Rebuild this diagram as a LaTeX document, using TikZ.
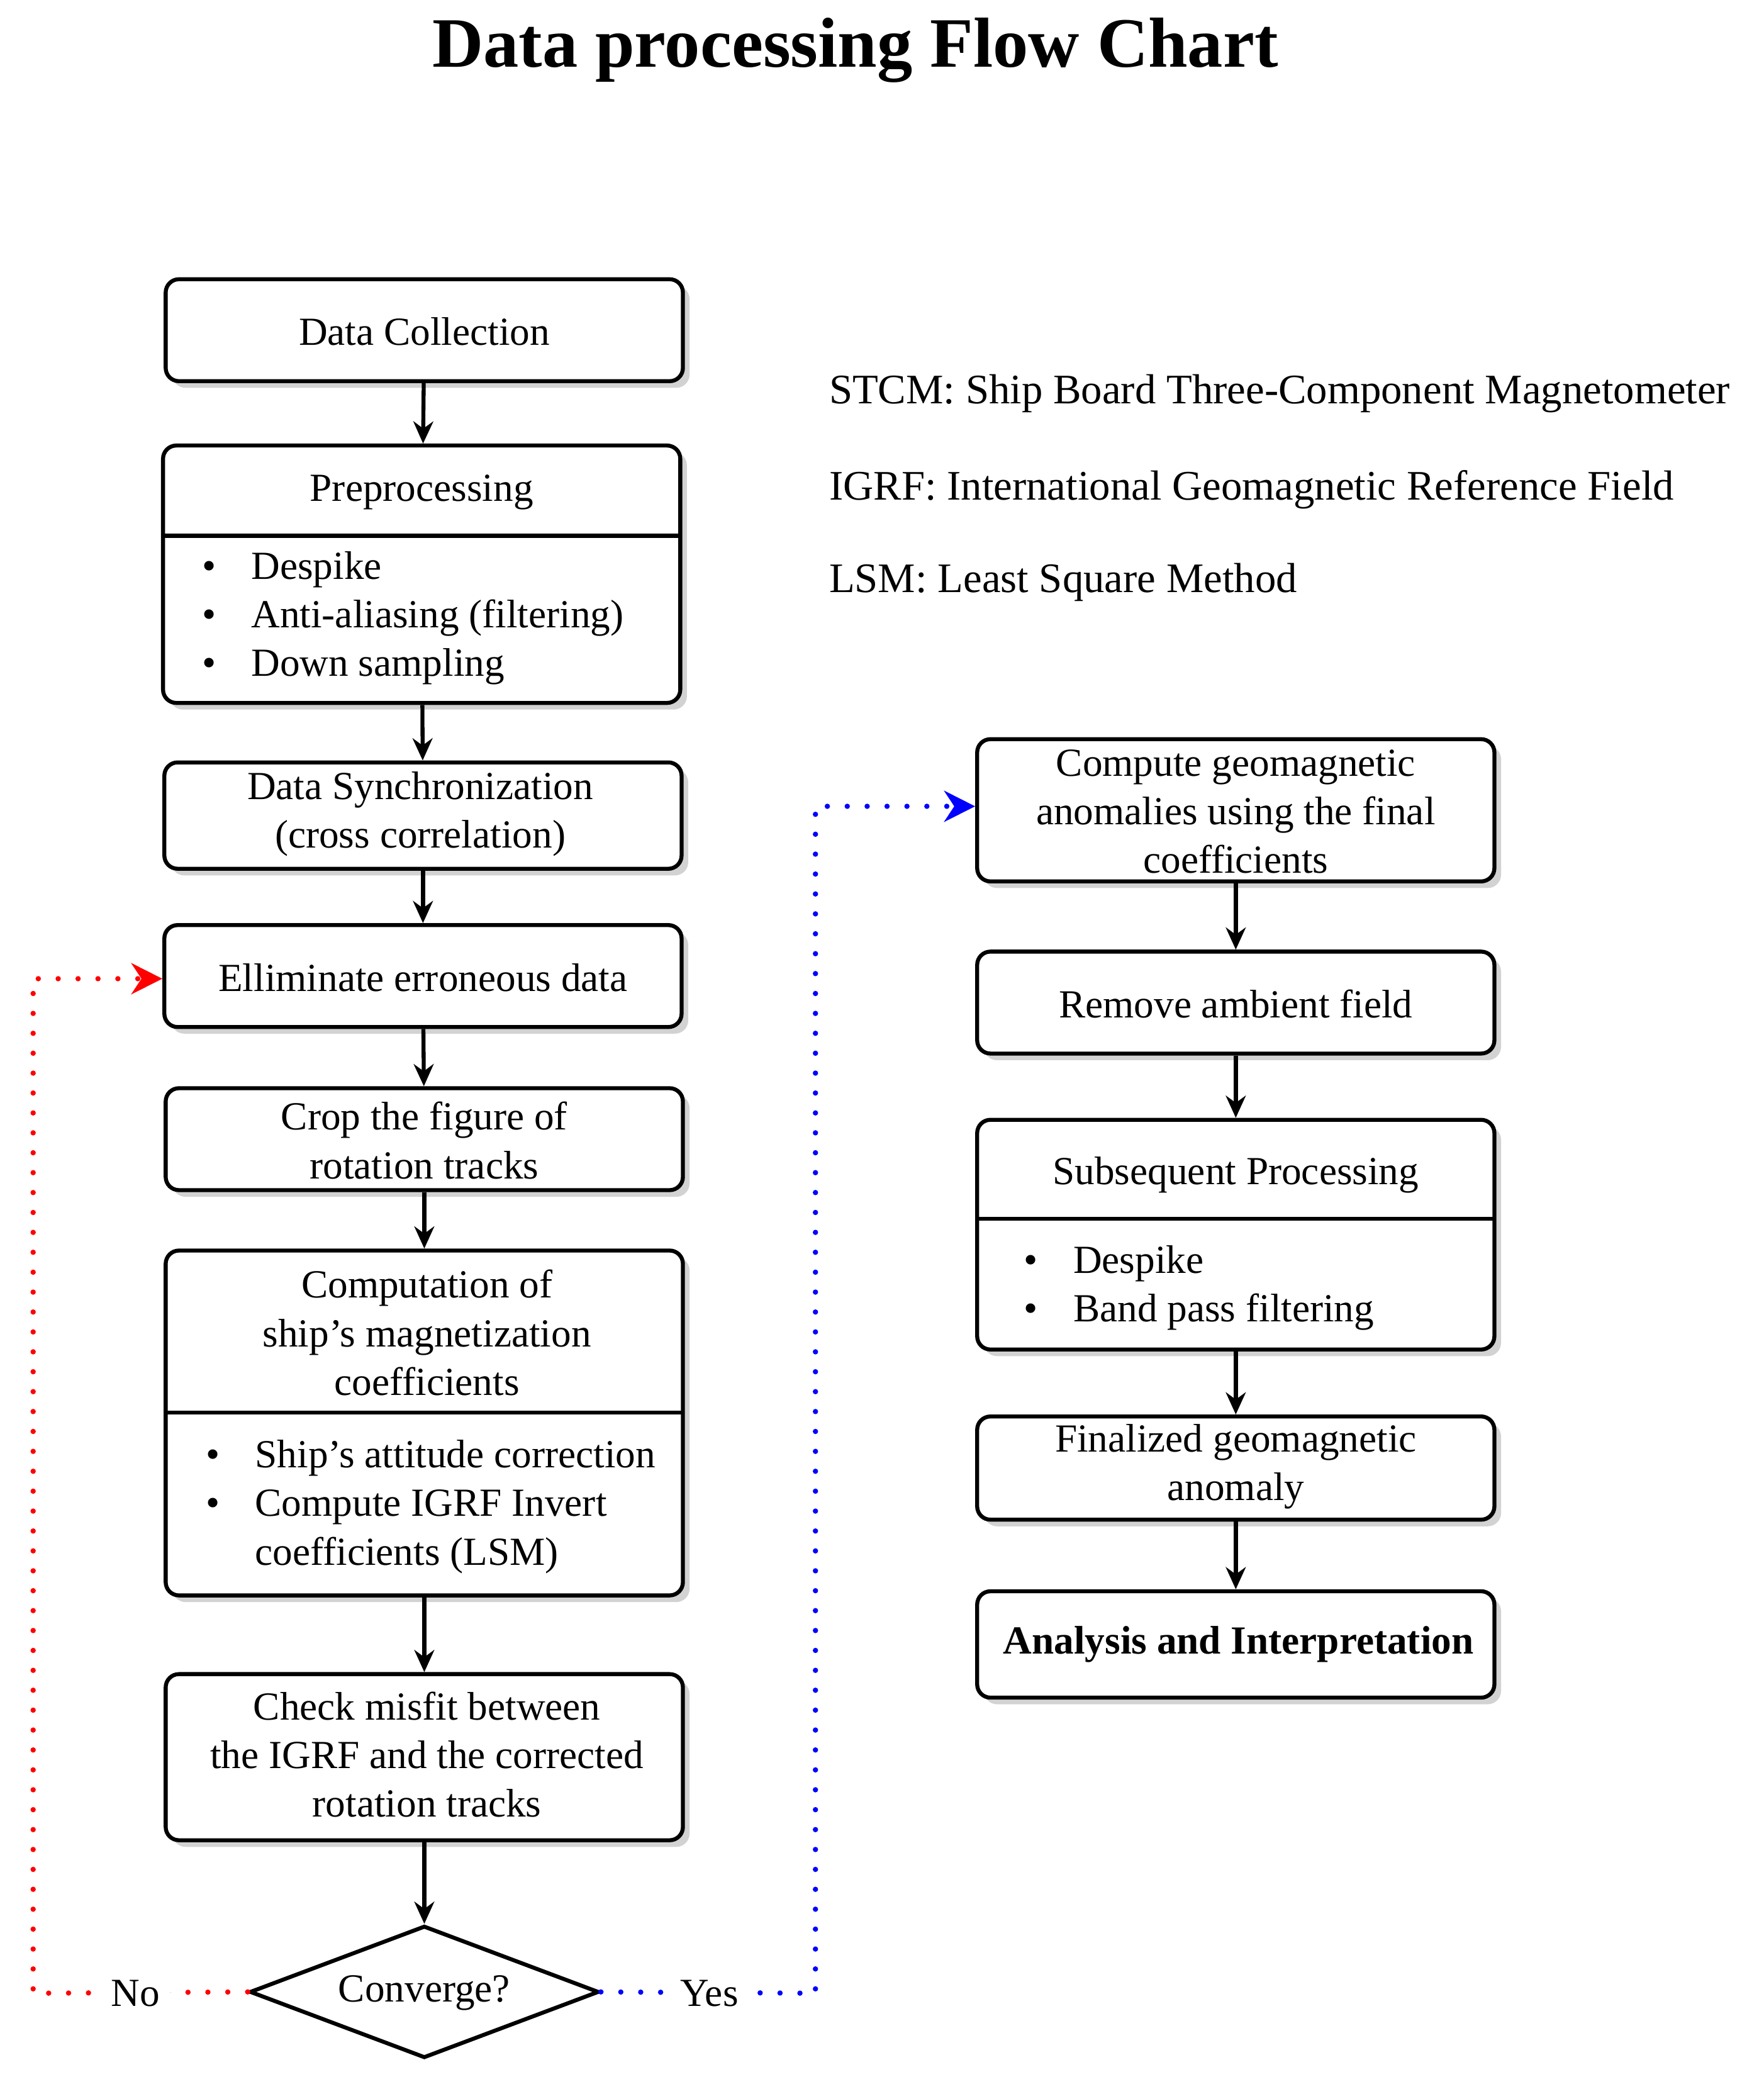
\documentclass[tikz,border=0pt]{standalone}
\usepackage{fontspec}
\setmainfont{Liberation Serif}
\usetikzlibrary{arrows.meta,shapes.geometric,shadows}
\begin{document}
\begin{tikzpicture}[x=0.02108cm,y=-0.02108cm,
  every node/.style={font=\fontsize{18}{22}\selectfont, inner sep=0pt},
  box/.style={draw, line width=1.8pt, rounded corners=6pt, fill=white,
    drop shadow={shadow xshift=3pt, shadow yshift=-3pt, fill=black!35}, minimum width=8.22cm},
  arr/.style={line width=1.8pt, -{Stealth[length=10pt,width=9pt]}},
  lbl/.style={align=center},
  lst/.style={align=left, anchor=west},
  dots/.style={line width=2.4pt, line cap=round, dash pattern=on 0pt off 9pt, -{Stealth[length=14pt,width=14pt]}}]
\useasboundingbox (0,0) rectangle (1330,1579);
\node[font=\fontsize{32}{36}\selectfont\bfseries] (title) at (645,38) {Data processing Flow Chart};
% legend
\node[anchor=west, font=\fontsize{19}{23}\selectfont] (l1) at (625,297) {STCM: Ship Board Three-Component Magnetometer};
\node[anchor=west, font=\fontsize{19}{23}\selectfont] (l2) at (625,369) {IGRF: International Geomagnetic Reference Field};
\node[anchor=west, font=\fontsize{19}{23}\selectfont] (l3) at (625,439) {LSM: Least Square Method};
% left column
\node[box, minimum height=1.62cm] (dc) at (320,249) {};
\node[lbl] (dct) at (320,250) {Data Collection};
\node[box, minimum height=4.09cm] (pp) at (318,433) {};
\draw[line width=1.8pt] (123,404) -- (513,404);
\node[lbl] (ppt) at (318,371) {Preprocessing};
\node[lst] (ppl) at (152,466) {\begin{tabular}{@{}l@{\hspace{16pt}}l@{}}\textbullet&Despike\\\textbullet&Anti-aliasing (filtering)\\\textbullet&Down sampling\end{tabular}};
\node[box, minimum height=1.69cm] (ds) at (319,615) {};
\node[lbl] (dst) at (317,614) {Data Synchronization\\(cross correlation)};
\node[box, minimum height=1.62cm] (el) at (319,736) {};
\node[lbl] (elt) at (319,737) {Elliminate erroneous data};
\node[box, minimum height=1.62cm] (cr) at (320,859) {};
\node[lbl] (crt) at (320,860) {Crop the figure of\\rotation tracks};
\node[box, minimum height=5.48cm] (cm) at (320,1073) {};
\draw[line width=1.8pt] (125,1065) -- (515,1065);
\node[lbl] (cmt) at (322,1005) {Computation of\\ship's magnetization\\coefficients};
\node[lst] (cml) at (155,1136) {\begin{tabular}{@{}l@{\hspace{16pt}}l@{}}\textbullet&Ship's attitude correction\\\textbullet&Compute IGRF Invert\\&coefficients (LSM)\end{tabular}};
\node[box, minimum height=2.64cm] (ck) at (320,1325) {};
\node[lbl] (ckt) at (322,1323) {Check misfit between\\the IGRF and the corrected\\rotation tracks};
\node[draw, line width=1.8pt, diamond, aspect=2.7, fill=white, minimum width=5.55cm, minimum height=2.1cm] (cv) at (320,1502) {};
\node (cvt) at (320,1503) {Converge?};
% right column
\node[box, minimum height=2.26cm] (cg) at (932,611) {};
\node[lbl] (cgt) at (932,612) {Compute geomagnetic\\anomalies using the final\\coefficients};
\node[box, minimum height=1.62cm] (ra) at (932,756) {};
\node[lbl] (rat) at (932,757) {Remove ambient field};
\node[box, minimum height=3.65cm] (sp) at (932,931) {};
\draw[line width=1.8pt] (737,919) -- (1128,919);
\node[lbl] (spt) at (932,886) {Subsequent Processing};
\node[lst] (spl) at (772,971) {\begin{tabular}{@{}l@{\hspace{16pt}}l@{}}\textbullet&Despike\\\textbullet&Band pass filtering\end{tabular}};
\node[box, minimum height=1.64cm] (fg) at (932,1107) {};
\node[lbl] (fgt) at (932,1106) {Finalized geomagnetic\\anomaly};
\node[box, minimum height=1.69cm] (an) at (932,1240) {};
\node[lbl, font=\fontsize{18}{22}\selectfont\bfseries] (ant) at (934,1240) {Analysis and Interpretation};
% arrows
\draw[arr] (dc) -- (pp);
\draw[arr] (pp) -- (ds);
\draw[arr] (ds) -- (el);
\draw[arr] (el) -- (cr);
\draw[arr] (cr) -- (cm);
\draw[arr] (cm) -- (ck);
\draw[arr] (ck) -- (cv);
\draw[arr] (cg) -- (ra);
\draw[arr] (ra) -- (sp);
\draw[arr] (sp) -- (fg);
\draw[arr] (fg) -- (an);
% loops
\coordinate (r1) at (25,1503); \coordinate (r2) at (25,738);
\coordinate (b1) at (615,1503); \coordinate (b2) at (615,608);
\draw[red, dots] (cv.west) -- (r1) -- (r2) -- (el.west |- r2);
\draw[blue, dots] (cv.east) -- (b1) -- (b2) -- (cg.west |- b2);
\node[fill=white, inner sep=5pt] (no) at (102,1503) {No};
\node[fill=white, inner sep=5pt] (yes) at (535,1503) {Yes};
\end{tikzpicture}
\end{document}
